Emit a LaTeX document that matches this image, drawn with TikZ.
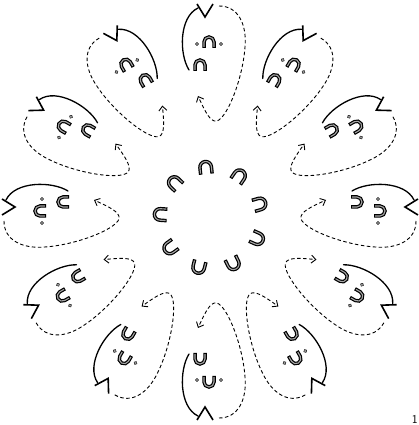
\documentclass[tikz,border=0pt]{standalone}
\usepackage{tikz}
\usetikzlibrary{arrows.meta}

\begin{document}
\begin{tikzpicture}[x=1pt, y=1pt,
    magnet/.pic={
        \draw[line width=3.5pt] (-5,-6) -- (-5,0) arc[start angle=180, end angle=0, radius=5pt] -- (5,-6);
        \draw[line width=1.1pt, black!35, shorten <=1.1pt, shorten >=1.1pt] (-5,-6) -- (-5,0) arc[start angle=180, end angle=0, radius=5pt] -- (5,-6);
    },
    pole/.style={fill=black!40, draw=black, line width=0.4pt},
    rim/.style={line width=1.3pt, line cap=round},
    chevron/.style={line width=1.6pt, line join=miter},
    flow/.style={line width=0.9pt, dash pattern=on 3.5pt off 2.5pt, -{Straight Barb[length=4.5pt, width=8pt]}}]
\useasboundingbox (0,0) rectangle (419,425);

% outer petals, right half as drawn, left half mirrored
\foreach \ang/\mir in {90/1, 60/1, 30/1, 0/1, -30/1, -60/1, -90/-1, -120/-1, -150/-1, 180/-1, 150/-1, 120/-1} {
  \begin{scope}[shift={(210,213)}, rotate=\ang-90, xscale=\mir]
    \draw[rim] (-21,142) .. controls (-31,158) and (-31,195) .. (-12,204);
    \draw[chevron] (-13,208) -- (-5,195) -- (3,208);
    \draw[flow] (9,206) .. controls (28,206) and (37,188) .. (35,165) .. controls (33,135) and (18,95) .. (7,91) .. controls (0,89) and (-6,103) .. (-12,116);
    \pic[transform shape] at (-10,147) {magnet};
    \pic[transform shape] at (-1,170) {magnet};
    \filldraw[pole] (-13,168) circle (1.7pt) (11,168) circle (1.7pt);
  \end{scope}
}

% inner ring of nine
\begin{scope}[shift={(211,207)}]
\foreach \k in {0,...,8} {
  \pic[rotate=6-40*\k, scale=1.15] at ({96-40*\k}:51) {magnet};
}
\end{scope}

\node[font=\sffamily\large, inner sep=0pt, anchor=south east] at (418,1) {1};
\end{tikzpicture}
\end{document}
